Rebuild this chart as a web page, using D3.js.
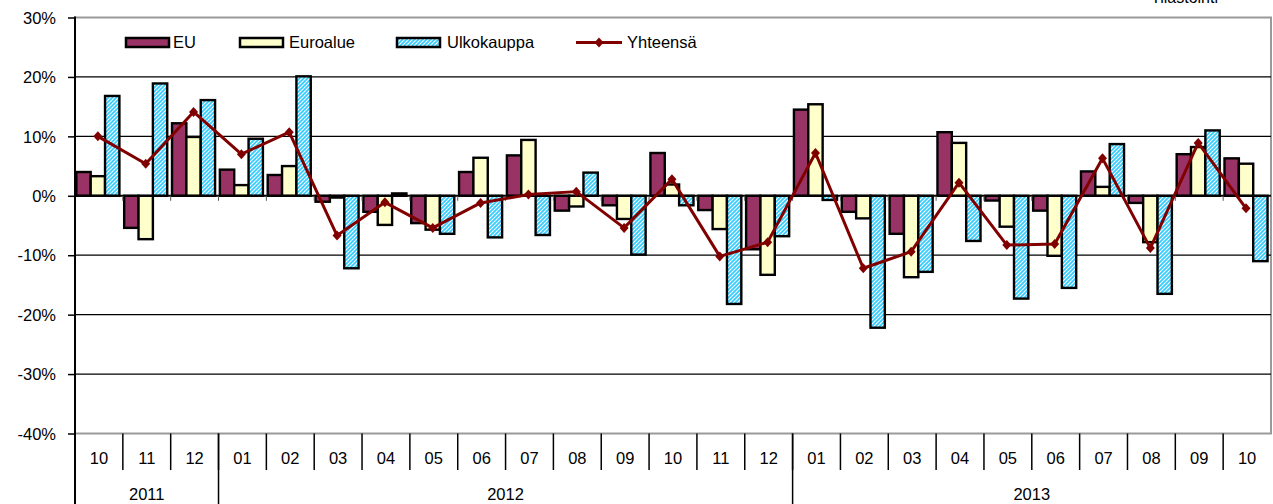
<!DOCTYPE html>
<html>
<head>
<meta charset="utf-8">
<script src="https://cdnjs.cloudflare.com/ajax/libs/d3/7.8.5/d3.min.js"></script>
<style>
  html, body { margin: 0; padding: 0; background: #fff; }
  svg { display: block; }
  text { font-family: "Liberation Sans", Arial, sans-serif; fill: #000; }
</style>
</head>
<body>
<svg id="chart" width="1273" height="504"></svg>
<script>
// Monthly change, %
const months = ["10","11","12","01","02","03","04","05","06","07","08","09","10","11","12","01","02","03","04","05","06","07","08","09","10"];
const yearLabels = ["2011", "2012", "2013"];
const yearSpans = [3, 12, 10];

const seriesNames = ["EU", "Euroalue", "Ulkokauppa"];
const lineName = "Yhteensä";

const eu    = [4.0, -5.4, 12.2, 4.4, 3.5, -1.0, -2.7, -4.6, 4.0, 6.8, -2.5, -1.6, 7.2, -2.4, -9.0, 14.5, -2.7, -6.4, 10.7, -0.8, -2.5, 4.1, -1.2, 7.0, 6.3];
const euro  = [3.3, -7.3, 9.9, 1.8, 5.0, -0.3, -4.9, -5.7, 6.4, 9.4, -1.8, -3.9, 1.9, -5.6, -13.3, 15.4, -3.8, -13.7, 8.9, -5.2, -10.1, 1.5, -7.8, 8.2, 5.4];
const ulko  = [16.8, 18.9, 16.1, 9.6, 20.1, -12.2, 0.4, -6.4, -7.0, -6.6, 3.9, -9.9, -1.6, -18.2, -6.8, -0.7, -22.2, -12.8, -7.6, -17.3, -15.5, 8.7, -16.5, 11.0, -11.0];
const total = [10.0, 5.4, 14.1, 7.0, 10.7, -6.7, -1.1, -5.4, -1.2, 0.2, 0.7, -5.4, 2.8, -10.2, -7.8, 7.2, -12.2, -9.4, 2.2, -8.3, -8.1, 6.3, -8.8, 8.9, -2.1];

const yTicks = [-40, -30, -20, -10, 0, 10, 20, 30];

const colors = { EU: "#993366", Euroalue: "#FFFFCC", Ulkokauppa: "url(#ulkoPattern)" };
const lineColor = "#800000";

const svg = d3.select("#chart");

// hatched fill for Ulkokauppa
const defs = svg.append("defs");
const pat = defs.append("pattern")
  .attr("id", "ulkoPattern")
  .attr("patternUnits", "userSpaceOnUse")
  .attr("width", 4).attr("height", 4);
pat.append("rect").attr("width", 4).attr("height", 4).attr("fill", "#33CCFF");
pat.append("path")
  .attr("d", "M-1,1 L1,-1 M0,4 L4,0 M3,5 L5,3")
  .attr("stroke", "#ffffff").attr("stroke-width", 1.1);

const plotLeft = 75, plotRight = 1271, plotTop = 17.5, plotBottom = 433.5;

const x = d3.scaleBand().domain(d3.range(months.length)).range([plotLeft, plotRight]).paddingInner(0).paddingOuter(0);
const y = d3.scaleLinear().domain([-40, 30]).range([plotBottom, plotTop]);
const bw = x.bandwidth();
const groupOffset = bw * 0.028;
const groupWidth = bw * 0.90;
const x1 = d3.scaleBand().domain(seriesNames).range([0, groupWidth]);

// plot frame
svg.append("rect")
  .attr("x", plotLeft).attr("y", plotTop)
  .attr("width", plotRight - plotLeft).attr("height", plotBottom - plotTop)
  .attr("fill", "none").attr("stroke", "#9a9a9a").attr("stroke-width", 2);

// grid lines
svg.append("g").selectAll("line")
  .data(yTicks.filter(t => t !== 30 && t !== -40 && t !== 0))
  .join("line")
  .attr("x1", plotLeft).attr("x2", plotRight)
  .attr("y1", d => y(d)).attr("y2", d => y(d))
  .attr("stroke", "#000").attr("stroke-width", 1.2);

// bars
const seriesData = { EU: eu, Euroalue: euro, Ulkokauppa: ulko };
const barG = svg.append("g");
seriesNames.forEach(name => {
  barG.append("g").selectAll("rect")
    .data(seriesData[name])
    .join("rect")
    .attr("x", (d, i) => x(i) + groupOffset + x1(name))
    .attr("width", x1.bandwidth())
    .attr("y", d => Math.min(y(d), y(0)))
    .attr("height", d => Math.abs(y(d) - y(0)))
    .attr("fill", colors[name])
    .attr("stroke", "#000").attr("stroke-width", 2.4);
});

// zero line with minor ticks
svg.append("line")
  .attr("x1", plotLeft).attr("x2", plotRight)
  .attr("y1", y(0)).attr("y2", y(0))
  .attr("stroke", "#000").attr("stroke-width", 2);
svg.append("g").selectAll("line")
  .data(d3.range(1, months.length))
  .join("line")
  .attr("x1", i => x(i)).attr("x2", i => x(i))
  .attr("y1", y(0)).attr("y2", y(0) + 5)
  .attr("stroke", "#555").attr("stroke-width", 1);

// total line
const cx = i => x(i) + groupOffset + groupWidth / 2;
svg.append("path")
  .datum(total)
  .attr("d", d3.line().x((d, i) => cx(i)).y(d => y(d)))
  .attr("fill", "none").attr("stroke", lineColor).attr("stroke-width", 3)
  .attr("stroke-linejoin", "round");
const diamond = "M0,-5 L4.5,0 L0,5 L-4.5,0 Z";
svg.append("g").selectAll("path")
  .data(total)
  .join("path")
  .attr("d", diamond)
  .attr("transform", (d, i) => `translate(${cx(i)},${y(d)})`)
  .attr("fill", lineColor);

// y axis
const yAxis = d3.axisLeft(y).tickValues(yTicks).tickSize(7).tickFormat(d => d + "%");
const yg = svg.append("g").attr("transform", `translate(${plotLeft},0)`).call(yAxis);
yg.select(".domain").remove();
yg.selectAll(".tick line").attr("stroke", "#000").attr("stroke-width", 1.5);
yg.selectAll(".tick text")
  .attr("x", -19).attr("dy", "0.35em")
  .attr("font-family", null).attr("font-size", null)
  .style("font-size", "16.5px");
svg.append("line")
  .attr("x1", plotLeft).attr("x2", plotLeft)
  .attr("y1", plotTop - 1).attr("y2", 504)
  .attr("stroke", "#000").attr("stroke-width", 2);

// category axis: months
const catG = svg.append("g");
catG.selectAll("line.sep")
  .data(d3.range(1, months.length))
  .join("line").attr("class", "sep")
  .attr("x1", i => x(i)).attr("x2", i => x(i))
  .attr("y1", plotBottom).attr("y2", 470)
  .attr("stroke", "#000").attr("stroke-width", 1.5);
catG.selectAll("text.month")
  .data(months)
  .join("text").attr("class", "month")
  .attr("x", (d, i) => x(i) + bw / 2)
  .attr("y", 458)
  .attr("dy", "0.35em")
  .attr("text-anchor", "middle")
  .style("font-size", "16.5px")
  .text(d => d);

// category axis: years
let start = 0;
const yearRanges = yearSpans.map(n => { const r = [start, start + n]; start += n; return r; });
catG.selectAll("line.ysep")
  .data(yearRanges.slice(1))
  .join("line").attr("class", "ysep")
  .attr("x1", r => x(r[0])).attr("x2", r => x(r[0]))
  .attr("y1", plotBottom).attr("y2", 504)
  .attr("stroke", "#000").attr("stroke-width", 1.5);
catG.selectAll("text.year")
  .data(yearRanges)
  .join("text").attr("class", "year")
  .attr("x", r => (x(r[0]) + (r[1] < months.length ? x(r[1]) : plotRight)) / 2)
  .attr("y", 494)
  .attr("dy", "0.35em")
  .attr("text-anchor", "middle")
  .style("font-size", "16.5px")
  .text((r, i) => yearLabels[i]);

// legend
const legend = svg.append("g");
const swatchX = [126, 240, 397];
const labelX = [173, 289, 447];
seriesNames.forEach((name, i) => {
  legend.append("rect")
    .attr("x", swatchX[i]).attr("y", 38)
    .attr("width", 43).attr("height", 9)
    .attr("fill", colors[name])
    .attr("stroke", "#000").attr("stroke-width", 2.5);
  legend.append("text")
    .attr("x", labelX[i]).attr("y", 42.5).attr("dy", "0.35em")
    .style("font-size", "16.5px")
    .text(name);
});
legend.append("line")
  .attr("x1", 576).attr("x2", 622).attr("y1", 42.5).attr("y2", 42.5)
  .attr("stroke", lineColor).attr("stroke-width", 3);
legend.append("path").attr("d", diamond)
  .attr("transform", "translate(599,42.5)").attr("fill", lineColor);
legend.append("text")
  .attr("x", 627).attr("y", 42.5).attr("dy", "0.35em")
  .style("font-size", "16.5px")
  .text(lineName);

// source note along the top edge
svg.append("text")
  .attr("x", 1218).attr("y", 3)
  .attr("text-anchor", "end")
  .style("font-size", "16px")
  .text("Tilastointi");
</script>
</body>
</html>
